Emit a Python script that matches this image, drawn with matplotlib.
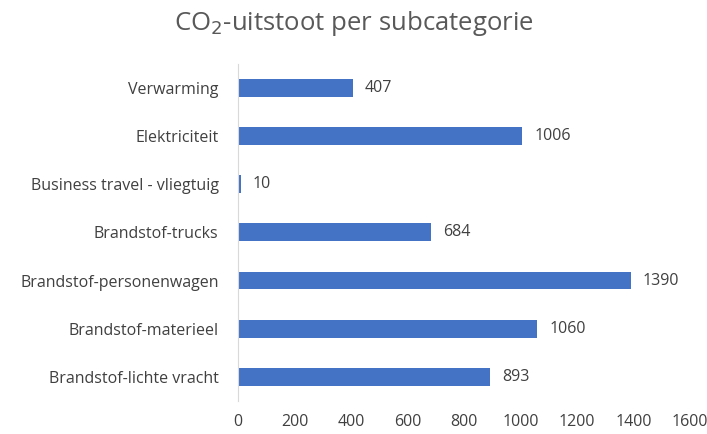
import matplotlib.pyplot as plt

# Data (top to bottom)
categories = ['Verwarming', 'Elektriciteit', 'Business travel - vliegtuig',
              'Brandstof-trucks', 'Brandstof-personenwagen',
              'Brandstof-materieel', 'Brandstof-lichte vracht']
values = [407, 1006, 10, 684, 1390, 1060, 893]

plt.rcParams['font.family'] = ['Open Sans', 'DejaVu Sans']

fig = plt.figure(figsize=(7.07, 4.34), dpi=100)
ax = fig.add_axes([0.3366, 0.076, 0.6394, 0.777])

bars = ax.barh(categories, values, height=0.37, color='#4472C4')
ax.invert_yaxis()
ax.set_ylim(6.5, -0.5)
ax.set_xlim(0, 1600)
ax.set_xticks(range(0, 1601, 200))

for bar, v in zip(bars, values):
    ax.text(bar.get_width() + 42, bar.get_y() + bar.get_height() / 2, str(v),
            va='center', ha='left', fontsize=11.5, color='#404040')

for s in ['top', 'right', 'bottom']:
    ax.spines[s].set_visible(False)
ax.spines['left'].set_color('#d9d9d9')
ax.tick_params(axis='both', length=0, labelsize=11.5, colors='#404040')
ax.tick_params(axis='x', pad=9)
ax.tick_params(axis='y', pad=14)

fig.text(0.5, 0.945, 'CO$_2$-uitstoot per subcategorie', ha='center', va='center',
         fontsize=18.5, color='#595959')

fig.savefig('out.png', dpi=100)
